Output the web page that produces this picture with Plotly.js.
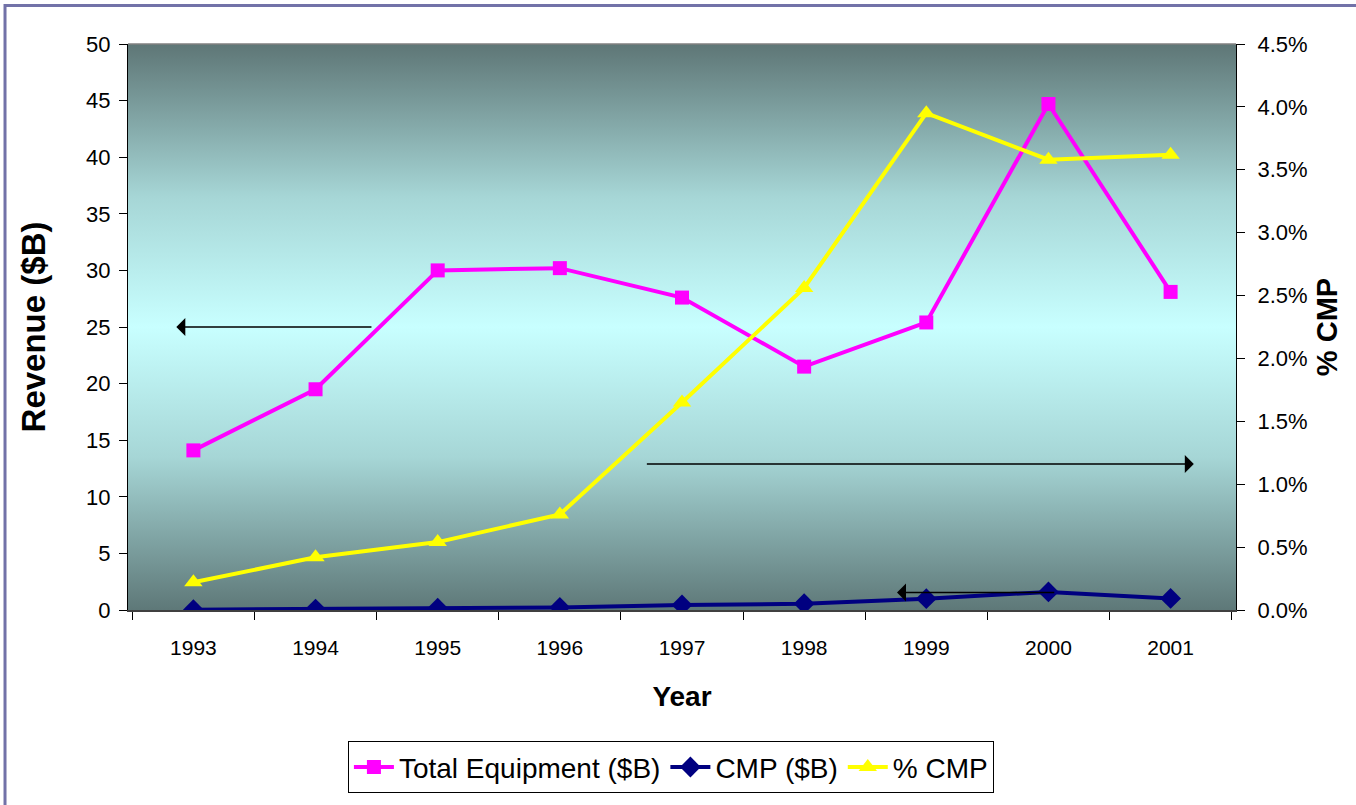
<!DOCTYPE html>
<html>
<head>
<meta charset="utf-8">
<script src="https://cdn.plot.ly/plotly-3.0.1.min.js"></script>
<style>
  html, body { margin: 0; padding: 0; background: #ffffff; }
  #chart { width: 1356px; height: 805px; }
</style>
</head>
<body>
<div id="chart"></div>
<script>
// Chart data
const years = ['1993', '1994', '1995', '1996', '1997', '1998', '1999', '2000', '2001'];
const totalEquipment = [14.1, 19.5, 30.0, 30.2, 27.6, 21.5, 25.4, 44.7, 28.1];
const cmpRevenue = [0.03, 0.08, 0.16, 0.23, 0.45, 0.55, 1.0, 1.6, 1.02];
const cmpShare = [0.0022, 0.0042, 0.0054, 0.0076, 0.0165, 0.0256, 0.0395, 0.0358, 0.0362];

const font = 'Liberation Sans, Arial, sans-serif';

// Excel-style "centre" gradient for the plot area
const gradientSvg =
    "<svg xmlns='http://www.w3.org/2000/svg' width='100' height='100' preserveAspectRatio='none'>" +
    "<defs><linearGradient id='g' x1='0' y1='0' x2='0' y2='1'>" +
    "<stop offset='0' stop-color='#5E7676'/>" +
    "<stop offset='0.27' stop-color='#A6D6D6'/>" +
    "<stop offset='0.5' stop-color='#C8FFFF'/>" +
    "<stop offset='0.73' stop-color='#A6D6D6'/>" +
    "<stop offset='1' stop-color='#5E7878'/>" +
    "</linearGradient></defs><rect width='100' height='100' fill='url(#g)'/></svg>";

const traces = [
    {
        x: years, y: totalEquipment,
        type: 'scatter', mode: 'lines+markers',
        name: 'Total Equipment ($B)',
        line: { color: '#FF00FF', width: 4 },
        marker: { symbol: 'square', size: 14, color: '#FF00FF' }
    },
    {
        x: years, y: cmpRevenue,
        type: 'scatter', mode: 'lines+markers',
        name: 'CMP ($B)',
        line: { color: '#000080', width: 4 },
        marker: { symbol: 'diamond', size: 16, color: '#000080' }
    },
    {
        x: years, y: cmpShare,
        yaxis: 'y2',
        type: 'scatter', mode: 'lines+markers',
        name: '% CMP',
        line: { color: '#FFFF00', width: 4 },
        marker: { symbol: 'triangle-up', size: 16, color: '#FFFF00' }
    }
];

function arrow(x, y, ax, ay, yref) {
    return {
        x: x, y: y, ax: ax, ay: ay,
        xref: 'x', yref: yref, axref: 'x', ayref: yref,
        text: '', showarrow: true,
        arrowhead: 1, arrowsize: 2, arrowwidth: 1.5, arrowcolor: '#000000'
    };
}

const layout = {
    width: 1356,
    height: 805,
    margin: { l: 128, r: 120, t: 44, b: 192 },
    paper_bgcolor: '#ffffff',
    plot_bgcolor: 'rgba(0,0,0,0)',
    font: { family: font, color: '#000000', size: 21 },
    showlegend: true,
    legend: {
        orientation: 'h',
        x: 0.49, xanchor: 'center',
        y: -0.232, yanchor: 'top',
        bgcolor: '#ffffff',
        bordercolor: '#000000', borderwidth: 1,
        font: { family: font, size: 28, color: '#000000' },
        itemwidth: 40,
        tracegroupgap: 0,
        traceorder: 'normal'
    },
    xaxis: {
        type: 'category',
        tickson: 'boundaries',
        ticks: 'outside', ticklen: 8, tickcolor: '#000000',
        ticklabelstandoff: 18,
        showline: true, linecolor: '#404040', linewidth: 2,
        showgrid: false, zeroline: false,
        tickfont: { family: font, size: 21 },
        title: { text: 'Year', font: { family: font, size: 28, weight: 'bold' }, standoff: 28 }
    },
    yaxis: {
        range: [0, 50], dtick: 5,
        ticks: 'outside', ticklen: 8, tickcolor: '#000000',
        ticklabelstandoff: 4,
        showline: true, linecolor: '#000000', linewidth: 1,
        showgrid: false, zeroline: false,
        tickfont: { family: font, size: 22 },
        title: { text: 'Revenue ($B)', font: { family: font, size: 33, weight: 'bold' }, standoff: 30 }
    },
    yaxis2: {
        overlaying: 'y', side: 'right',
        range: [0, 0.045], dtick: 0.005, tickformat: '.1%',
        ticks: 'outside', ticklen: 8, tickcolor: '#000000',
        ticklabelstandoff: 8,
        showline: true, linecolor: '#000000', linewidth: 1,
        showgrid: false, zeroline: false,
        tickfont: { family: font, size: 22 },
        title: { text: '% CMP', font: { family: font, size: 29, weight: 'bold' }, standoff: 10 }
    },
    images: [{
        source: 'data:image/svg+xml;charset=utf-8,' + encodeURIComponent(gradientSvg),
        xref: 'paper', yref: 'paper',
        x: 0, y: 1, sizex: 1, sizey: 1,
        xanchor: 'left', yanchor: 'top',
        sizing: 'stretch', layer: 'below'
    }],
    shapes: [
        // grey top edge of plot area
        { type: 'line', xref: 'paper', yref: 'paper', x0: 0, x1: 1, y0: 1, y1: 1,
          line: { color: '#808080', width: 1.5 } },
        // purple outer frame
        { type: 'rect', xref: 'paper', yref: 'paper',
          x0: -0.111, x1: 1.115, y0: -0.36, y1: 1.068,
          line: { color: '#7272A8', width: 3 }, fillcolor: 'rgba(0,0,0,0)' }
    ],
    annotations: [
        arrow(-0.14, 25, 1.47, 25, 'y'),
        arrow(8.19, 0.0116, 3.70, 0.0116, 'y2'),
        arrow(5.76, 1.55, 7.06, 1.55, 'y')
    ]
};

Plotly.newPlot('chart', traces, layout, { displayModeBar: false, staticPlot: true });
</script>
</body>
</html>
